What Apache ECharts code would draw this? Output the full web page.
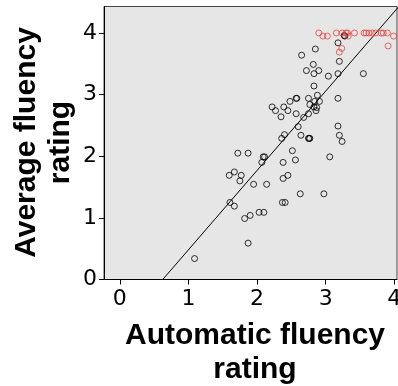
<!DOCTYPE html>
<html><head><meta charset="utf-8">
<script src="https://cdn.jsdelivr.net/npm/echarts@6/dist/echarts.min.js"></script>
<style>html,body{margin:0;padding:0;background:#fff}#c{width:398px;height:386px}</style>
</head><body><div id="c"></div>
<script>
// Black points: [automatic, average]
const blackPoints = [
 [1.09,0.34],[1.87,0.59],[1.82,0.99],[1.90,1.04],[2.03,1.09],[2.10,1.09],
 [1.605,1.25],[1.67,1.19],[2.37,1.25],[2.41,1.25],[2.63,1.39],[2.975,1.39],
 [1.95,1.545],[2.14,1.545],[1.595,1.69],[1.67,1.745],[1.77,1.69],[1.75,1.60],
 [2.38,1.64],[2.45,1.69],[2.38,1.90],[2.07,1.90],[2.09,1.99],[2.11,1.99],
 [1.72,2.05],[1.87,2.05],[2.56,1.94],[2.515,2.09],[3.06,1.99],
 [2.36,2.29],[2.40,2.35],[2.64,2.34],[2.75,2.29],[2.77,2.29],[2.76,2.29],
 [3.18,2.49],[3.20,2.34],[3.24,2.24],[2.60,2.48],[2.68,2.63],[2.57,2.69],[2.75,2.69],
 [2.35,2.64],[2.22,2.80],[2.27,2.74],[2.39,2.80],[2.45,2.74],[2.48,2.89],
 [2.57,2.94],[2.58,2.94],[2.75,2.94],[2.77,2.84],[2.83,2.80],[2.86,2.74],
 [2.87,2.79],[2.91,2.89],[2.88,2.99],[2.84,2.89],[3.18,2.94],[2.83,3.14],
 [3.04,3.30],[2.72,3.39],[2.82,3.49],[2.83,3.34],[2.90,3.39],[3.18,3.34],
 [3.20,3.54],[3.55,3.34],[2.65,3.64],[2.85,3.74],[3.18,3.84],[3.28,3.95],[3.27,3.96]
];
// Red points
const redPoints = [
 [2.90,4.0],[2.96,3.95],[3.025,3.95],[3.156,4.0],[3.24,4.0],[3.30,4.0],[3.32,4.0],
 [3.33,3.95],[3.42,4.0],[3.56,4.0],[3.59,4.0],[3.63,4.0],[3.68,4.0],[3.73,4.0],
 [3.81,4.0],[3.84,4.0],[3.90,4.0],[3.99,3.95],[3.91,3.79],[3.20,3.69],[3.235,3.75]
];
// Fitted diagonal line (data units)
const fitLine = [[0.626,0],[4.067,4.43]];
const xTicks = [0,1,2,3,4];
const yTicks = [0,1,2,3,4];
const xTitle = 'Automatic fluency\nrating';
const yTitle = 'Average fluency\nrating';

const chart = echarts.init(document.getElementById('c'), null, {renderer:'canvas'});
const labelFont = {fontFamily:'DejaVu Sans', fontSize:22, color:'#000'};
chart.setOption({
  animation:false,
  grid:{left:104, top:6.5, right:1, bottom:106.5, show:true, backgroundColor:'#e6e6e6', borderColor:'#444', borderWidth:1,
    containLabel:false, outerBoundsMode:'none'},
  xAxis:{type:'value', min:-0.23, max:4.04,
    axisLine:{show:true, onZero:false, lineStyle:{color:'#000', width:1}},
    axisTick:{show:true, length:5, customValues:xTicks, lineStyle:{color:'#000'}},
    axisLabel:Object.assign({customValues:xTicks, margin:9, hideOverlap:false}, labelFont),
    splitLine:{show:false}},
  yAxis:{type:'value', min:0, max:4.43,
    axisLine:{show:true, onZero:false, lineStyle:{color:'#000', width:1}},
    axisTick:{show:true, length:5, customValues:yTicks, lineStyle:{color:'#000'}},
    axisLabel:Object.assign({customValues:yTicks, margin:7, hideOverlap:false}, labelFont),
    splitLine:{show:false}},
  graphic:[
    {type:'text', x:255, y:319, style:{text:xTitle, font:'bold 30px "Liberation Sans"', fill:'#000', textAlign:'center', textVerticalAlign:'top', lineHeight:34}},
    {type:'text', x:10, y:142.5, rotation:Math.PI/2, style:{text:yTitle, font:'bold 30px "Liberation Sans"', fill:'#000', textAlign:'center', textVerticalAlign:'top', lineHeight:34}}
  ],
  series:[
    {type:'line', data:fitLine, symbol:'none', clip:true, lineStyle:{color:'#000', width:1}, z:3},
    {type:'scatter', data:blackPoints, symbol:'circle', symbolSize:6,
      itemStyle:{color:'rgba(0,0,0,0)', borderColor:'#000', borderWidth:1}, z:4},
    {type:'scatter', data:redPoints, symbol:'circle', symbolSize:6,
      itemStyle:{color:'rgba(0,0,0,0)', borderColor:'#e8433f', borderWidth:1}, z:4}
  ]
});
</script></body></html>
